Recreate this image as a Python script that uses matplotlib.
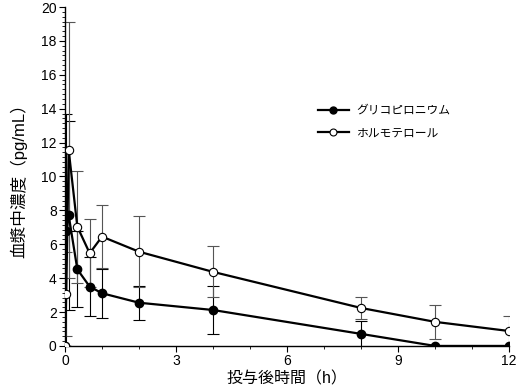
import matplotlib
matplotlib.use("Agg")
import matplotlib.pyplot as plt
from matplotlib.ticker import MultipleLocator, AutoMinorLocator

plt.rcParams['font.family'] = ['Liberation Sans', 'Noto Sans CJK JP', 'DejaVu Sans']

time_h = [0, 0.033, 0.1, 0.333, 0.667, 1, 2, 4, 8, 10, 12]
glyco_mean = [0, 6.8, 7.7, 4.52, 3.5, 3.11, 2.55, 2.12, 0.71, 0, 0]
glyco_sd = [0, 6.9, 5.6, 2.25, 1.75, 1.45, 1.0, 1.4, 0.75, 0, 0]
formo_mean = [0, 3.07, 11.55, 7.04, 5.47, 6.45, 5.56, 4.37, 2.24, 1.42, 0.88]
formo_sd = [0, 2.5, 7.55, 3.3, 2.0, 1.85, 2.1, 1.5, 0.67, 1.0, 0.9]

label_glyco = "グリコピロニウム"
label_formo = "ホルモテロール"
xlabel = "投与後時間（h）"
ylabel = "血漿中濃度（pg/mL）"

fig = plt.figure(figsize=(5.2, 3.9), dpi=100)
ax = fig.add_axes([0.125, 0.113, 0.854, 0.869])

ax.errorbar(time_h, glyco_mean, yerr=glyco_sd, fmt='none', ecolor='black',
            elinewidth=0.8, capsize=4, capthick=0.8, zorder=2)
ax.errorbar(time_h, formo_mean, yerr=formo_sd, fmt='none', ecolor='#555555',
            elinewidth=0.8, capsize=4, capthick=0.8, zorder=2)

ax.plot(time_h, glyco_mean, color='black', lw=1.6, marker='o', ms=6,
        mfc='black', mec='black', zorder=3, label=label_glyco)
ax.plot(time_h, formo_mean, color='black', lw=1.6, marker='o', ms=6,
        mfc='white', mec='black', mew=0.8, zorder=4, label=label_formo)

ax.set_xlim(0, 12)
ax.set_ylim(0, 20)
ax.xaxis.set_major_locator(MultipleLocator(3))
ax.xaxis.set_minor_locator(MultipleLocator(1))
ax.yaxis.set_major_locator(MultipleLocator(2))
ax.yaxis.set_minor_locator(AutoMinorLocator(7))

for s in ['top', 'right']:
    ax.spines[s].set_visible(False)
for s in ['left', 'bottom']:
    ax.spines[s].set_linewidth(1.0)

ax.tick_params(axis='both', which='major', direction='out', length=4, width=0.8,
               labelsize=10, pad=2)
ax.tick_params(axis='both', which='minor', direction='out', length=2.5, width=0.6)

ax.set_xlabel(xlabel, fontsize=11.5, labelpad=2)
ax.set_ylabel(ylabel, fontsize=12, labelpad=10)

leg = ax.legend(loc='upper left', bbox_to_anchor=(0.558, 0.725), frameon=False,
                fontsize=8.5, handlelength=2.7, handletextpad=0.6,
                labelspacing=0.9, borderaxespad=0)
for h in leg.legend_handles:
    h.set_markersize(5)

fig.savefig("out.png", dpi=100)
